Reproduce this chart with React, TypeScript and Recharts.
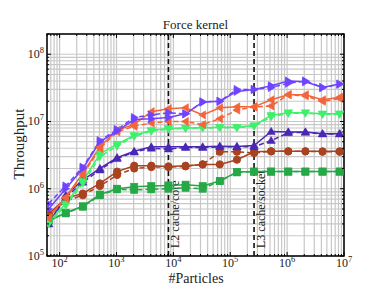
import { LineChart, Line, XAxis, YAxis, CartesianGrid, ReferenceLine, ReferenceArea } from 'recharts';

const PARTICLES = [
  64, 128, 256, 512, 1024, 2048, 4096, 8192, 16384, 32768, 65536, 131072, 262144, 524288,
  1048576, 2097152, 4194304, 8388608,
];

const purpleSolid = [5.0e5, 1.0e6, 2.0e6, 5.0e6, 7.2e6, 1.07e7, 1.1e7, 1.15e7, 1.3e7, 1.95e7, 2.0e7, 2.8e7, 3.0e7, 3.4e7, 4.0e7, 3.9e7, 3.2e7, 3.6e7];
const purpleDashed = [6.0e5, 1.1e6, 2.1e6, 5.2e6, 7.6e6, 1.15e7, 1.25e7, 1.35e7, 1.3e7, 1.95e7, 2.0e7, 3.0e7, 3.0e7, 3.2e7, 3.7e7, 4.0e7, 3.2e7, 3.6e7];
const orangeSolid = [3.7e5, 7.5e5, 1.7e6, 4.2e6, 7.4e6, 9.1e6, 1.4e7, 1.55e7, 1.6e7, 1.25e7, 1.6e7, 1.65e7, 1.65e7, 2.1e7, 2.5e7, 2.5e7, 2.1e7, 2.3e7];
const orangeDashed = [3.7e5, 7.2e5, 1.6e6, 4.0e6, 7.0e6, 8.5e6, 9.5e6, 1.0e7, 1.0e7, 9.0e6, 1.1e7, 1.48e7, 1.65e7, 1.7e7, 2.5e7, 2.4e7, 2.0e7, 2.2e7];
const limeSolid = [3.2e5, 6.0e5, 1.3e6, 3.3e6, 4.6e6, 6.2e6, 7.4e6, 7.9e6, 8.0e6, 8.1e6, 8.2e6, 8.2e6, 8.7e6, 1.24e7, 1.35e7, 1.35e7, 1.3e7, 1.3e7];
const limeDashed = [3.0e5, 5.6e5, 1.2e6, 3.0e6, 4.3e6, 6.0e6, 7.2e6, 7.7e6, 7.9e6, 8.0e6, 8.1e6, 8.1e6, 8.5e6, 1.17e7, 1.32e7, 1.33e7, 1.28e7, 1.28e7];
const indigoSolid = [3.0e5, 8.0e5, 1.35e6, 2.0e6, 2.9e6, 3.6e6, 4.2e6, 4.2e6, 4.2e6, 4.2e6, 4.3e6, 4.25e6, 4.4e6, 7.1e6, 7.0e6, 7.0e6, 6.6e6, 6.6e6];
const indigoDashed = [3.0e5, 7.4e5, 1.25e6, 1.9e6, 2.8e6, 3.5e6, 4.0e6, 3.9e6, 4.1e6, 4.1e6, 4.2e6, 4.2e6, 4.2e6, 5.2e6, 6.8e6, 6.9e6, 6.5e6, 6.5e6];
const brownSolid = [4.2e5, 7.2e5, 8.5e5, 1.2e6, 1.8e6, 2.2e6, 2.2e6, 2.15e6, 2.2e6, 2.3e6, 2.3e6, 2.7e6, 3.55e6, 3.6e6, 3.6e6, 3.6e6, 3.6e6, 3.6e6];
const brownDashed = [4.0e5, 6.6e5, 8.0e5, 1.1e6, 1.6e6, 2.0e6, 2.1e6, 2.1e6, 2.15e6, 2.3e6, 3.55e6, 3.55e6, 3.4e6, 3.6e6, 3.6e6, 3.6e6, 3.55e6, 3.55e6];
const greenSolid = [3.3e5, 4.4e5, 5.5e5, 8.2e5, 1.0e6, 1.07e6, 1.1e6, 1.12e6, 1.15e6, 1.1e6, 1.3e6, 1.78e6, 1.8e6, 1.8e6, 1.8e6, 1.8e6, 1.8e6, 1.8e6];
const greenDashed = [3.4e5, 4.3e5, 5.4e5, 8.0e5, 9.8e5, 9.6e5, 9.8e5, 1.0e6, 1.03e6, 1.0e6, 1.3e6, 1.75e6, 1.8e6, 1.8e6, 1.8e6, 1.8e6, 1.8e6, 1.8e6];

const X_TICKS = [60, 70, 80, 90, 100, 200, 300, 400, 500, 600, 700, 800, 900, 1e3, 2e3, 3e3, 4e3, 5e3, 6e3, 7e3, 8e3, 9e3, 1e4, 2e4, 3e4, 4e4, 5e4, 6e4, 7e4, 8e4, 9e4, 1e5, 2e5, 3e5, 4e5, 5e5, 6e5, 7e5, 8e5, 9e5, 1e6, 2e6, 3e6, 4e6, 5e6, 6e6, 7e6, 8e6, 9e6, 1e7];
const Y_TICKS = [1e5, 2e5, 3e5, 4e5, 5e5, 6e5, 7e5, 8e5, 9e5, 1e6, 2e6, 3e6, 4e6, 5e6, 6e6, 7e6, 8e6, 9e6, 1e7, 2e7, 3e7, 4e7, 5e7, 6e7, 7e7, 8e7, 9e7, 1e8, 2e8];

const CACHE_LINES = [
  { n: 8192, label: 'L2 cache/core' },
  { n: 262144, label: 'L3 cache/socket' },
];

const SERIES = [
  { key: 'greenS', values: greenSolid, color: '#25a845', shape: 'square', dashed: false },
  { key: 'greenD', values: greenDashed, color: '#25a845', shape: 'square', dashed: true },
  { key: 'brownS', values: brownSolid, color: '#a9421f', shape: 'circle', dashed: false },
  { key: 'brownD', values: brownDashed, color: '#a9421f', shape: 'circle', dashed: true },
  { key: 'indigoS', values: indigoSolid, color: '#4a27b5', shape: 'up', dashed: false },
  { key: 'indigoD', values: indigoDashed, color: '#4a27b5', shape: 'up', dashed: true },
  { key: 'limeS', values: limeSolid, color: '#3ef06a', shape: 'down', dashed: false },
  { key: 'limeD', values: limeDashed, color: '#3ef06a', shape: 'down', dashed: true },
  { key: 'orangeS', values: orangeSolid, color: '#f4643a', shape: 'left', dashed: false },
  { key: 'orangeD', values: orangeDashed, color: '#f4643a', shape: 'left', dashed: true },
  { key: 'purpleS', values: purpleSolid, color: '#6e44ff', shape: 'right', dashed: false },
  { key: 'purpleD', values: purpleDashed, color: '#6e44ff', shape: 'right', dashed: true },
];

const data = PARTICLES.map((n, i) => {
  const row: Record<string, number> = { n };
  SERIES.forEach((s) => {
    row[s.key] = s.values[i];
  });
  return row;
});

const FONT = '"Liberation Serif", "DejaVu Serif", serif';
const PLOT_TOP = 34;
const PLOT_RIGHT = 344;

const isMajor = (v: number) => Math.abs(Math.log10(v) - Math.round(Math.log10(v))) < 1e-9;

function Marker(props: any, shape: string, color: string) {
  const { cx, cy, index } = props;
  if (cx == null || cy == null) return <g key={index} />;
  const r = 3.6;
  if (shape === 'circle') return <circle key={index} cx={cx} cy={cy} r={r} fill={color} stroke={color} />;
  if (shape === 'square')
    return <rect key={index} x={cx - r} y={cy - r} width={2 * r} height={2 * r} fill={color} stroke={color} strokeWidth={0.5} />;
  let pts: number[][] = [];
  const a = r * 1.15;
  if (shape === 'up') pts = [[cx, cy - a], [cx - a, cy + a * 0.7], [cx + a, cy + a * 0.7]];
  if (shape === 'down') pts = [[cx, cy + a], [cx - a, cy - a * 0.7], [cx + a, cy - a * 0.7]];
  if (shape === 'right') pts = [[cx + a, cy], [cx - a * 0.7, cy - a], [cx - a * 0.7, cy + a]];
  if (shape === 'left') pts = [[cx - a, cy], [cx + a * 0.7, cy - a], [cx + a * 0.7, cy + a]];
  return <polygon key={index} points={pts.map((p) => p.join(',')).join(' ')} fill={color} stroke={color} strokeWidth={0.5} />;
}

function XTick({ x, y, payload }: any) {
  const v = payload.value;
  const major = isMajor(v);
  const len = major ? 4 : 2;
  return (
    <g>
      <line x1={x} x2={x} y1={y} y2={y - len} stroke="#000" strokeWidth={1} />
      <line x1={x} x2={x} y1={PLOT_TOP} y2={PLOT_TOP + len} stroke="#000" strokeWidth={1} />
      {major && (
        <text x={x} y={y + 11} textAnchor="middle" fontFamily={FONT} fontSize={12} fill="#222">
          10<tspan dy={-5} fontSize={8.5}>{Math.round(Math.log10(v))}</tspan>
        </text>
      )}
    </g>
  );
}

function YTick({ x, y, payload }: any) {
  const v = payload.value;
  const major = isMajor(v);
  const len = major ? 4 : 2;
  return (
    <g>
      <line x1={x} x2={x + len} y1={y} y2={y} stroke="#000" strokeWidth={1} />
      <line x1={PLOT_RIGHT} x2={PLOT_RIGHT - len} y1={y} y2={y} stroke="#000" strokeWidth={1} />
      {major && (
        <text x={x - 3} y={y + 4} textAnchor="end" fontFamily={FONT} fontSize={12} fill="#222">
          10<tspan dy={-5} fontSize={8.5}>{Math.round(Math.log10(v))}</tspan>
        </text>
      )}
    </g>
  );
}

function CacheLabel(text: string) {
  return (props: any) => {
    const vb = props.viewBox || {};
    const x = (vb.x ?? 0) + 7;
    const y = (vb.y ?? 0) + (vb.height ?? 0) - 8;
    return (
      <text
        x={x}
        y={y}
        transform={`rotate(-90 ${x} ${y})`}
        fontFamily={FONT}
        fontSize={12}
        fill="#222"
        dominantBaseline="central"
      >
        {text}
      </text>
    );
  };
}

const XLabel = () => (
  <text x={196} y={283} textAnchor="middle" fontFamily={FONT} fontSize={14} fill="#222">
    #Particles
  </text>
);

const YLabel = () => (
  <text
    x={19}
    y={144}
    transform="rotate(-90 19 144)"
    textAnchor="middle"
    dominantBaseline="central"
    fontFamily={FONT}
    fontSize={15}
    fill="#222"
  >
    Throughput
  </text>
);

export default function App() {
  return (
    <div style={{ position: 'fixed', left: 0, top: 0, width: 382, height: 287, background: '#fff' }}>
      <div
        style={{
          position: 'absolute',
          top: 17,
          left: 47,
          width: 297,
          textAlign: 'center',
          fontFamily: FONT,
          fontSize: 13,
          color: '#222',
        }}
      >
        Force kernel
      </div>
      <LineChart width={382} height={287} data={data} margin={{ top: PLOT_TOP, right: 382 - PLOT_RIGHT, bottom: 0, left: 0 }}>
        <CartesianGrid stroke="#c8c8c8" strokeWidth={1.2} />
        <XAxis
          dataKey="n"
          type="number"
          scale="log"
          domain={[60, 1e7]}
          ticks={X_TICKS}
          allowDataOverflow
          height={31}
          tickSize={0}
          tickMargin={0}
          axisLine={false}
          tick={<XTick />}
          interval={0}
          label={<XLabel />}
        />
        <YAxis
          type="number"
          scale="log"
          domain={[1e5, 2e8]}
          ticks={Y_TICKS}
          allowDataOverflow
          width={47}
          tickSize={0}
          tickMargin={0}
          axisLine={false}
          tick={<YTick />}
          interval={0}
          label={<YLabel />}
        />
        {CACHE_LINES.map((c) => (
          <ReferenceLine
            key={c.label}
            x={c.n}
            stroke="#111"
            strokeWidth={1.6}
            strokeDasharray="5 3"
            label={CacheLabel(c.label)}
          />
        ))}
        {SERIES.map((s) => (
          <Line
            key={s.key}
            dataKey={s.key}
            stroke={s.color}
            strokeWidth={1.5}
            strokeDasharray={s.dashed ? '5 3' : undefined}
            dot={(p: any) => Marker(p, s.shape, s.color)}
            activeDot={false}
            isAnimationActive={false}
          />
        ))}
        <ReferenceArea x1={60} x2={1e7} y1={1e5} y2={2e8} fill="none" stroke="#000" strokeWidth={1.5} ifOverflow="visible" />
      </LineChart>
    </div>
  );
}
